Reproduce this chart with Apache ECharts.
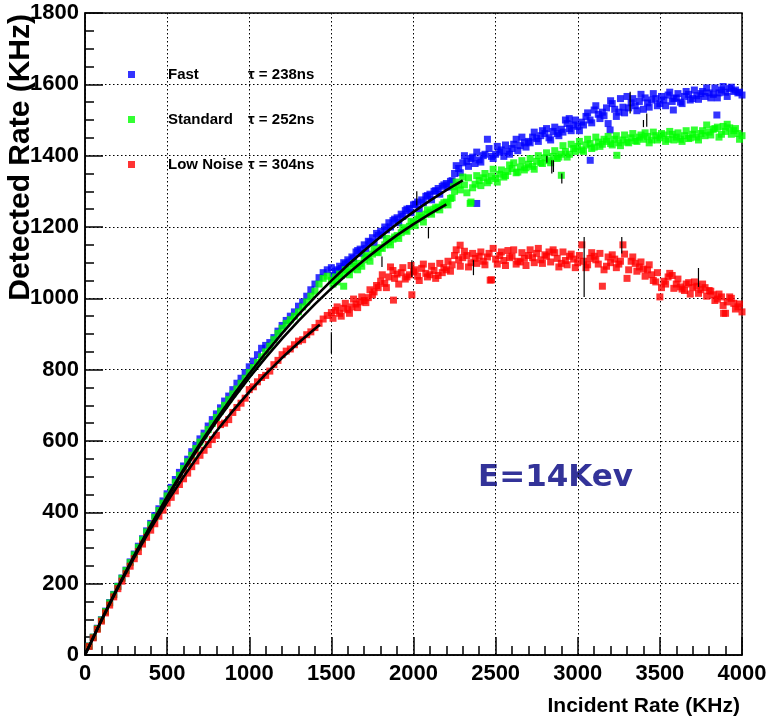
<!DOCTYPE html>
<html>
<head>
<meta charset="utf-8">
<script src="https://cdn.jsdelivr.net/npm/echarts@6/dist/echarts.min.js"></script>
<style>
  html, body { margin: 0; padding: 0; background: #fff; }
  #chart { width: 770px; height: 723px; }
</style>
</head>
<body>
<div id="chart"></div>
<script>
// Incident rate (KHz) of the first pass of measurements
const incidentRate = [
  25, 50, 75, 100, 125, 150, 175, 200, 225, 250, 275, 300, 325, 350, 375, 400,
  425, 450, 475, 500, 525, 550, 575, 600, 625, 650, 675, 700, 725, 750, 775, 800,
  825, 850, 875, 900, 925, 950, 975, 1000, 1025, 1050, 1075, 1100, 1125, 1150, 1175, 1200,
  1225, 1250, 1275, 1300, 1325, 1350, 1375, 1400, 1425, 1450, 1475, 1500, 1525, 1550, 1575, 1600,
  1625, 1650, 1675, 1700, 1725, 1750, 1775, 1800, 1825, 1850, 1875, 1900, 1925, 1950, 1975, 2000,
  2025, 2050, 2075, 2100, 2125, 2150, 2175, 2200, 2225, 2250, 2275, 2300, 2325, 2350, 2375, 2400,
  2425, 2450, 2475, 2500, 2525, 2550, 2575, 2600, 2625, 2650, 2675, 2700, 2725, 2750, 2775, 2800,
  2825, 2850, 2875, 2900, 2925, 2950, 2975, 3000, 3025, 3050, 3075, 3100, 3125, 3150, 3175, 3200,
  3225, 3250, 3275, 3300, 3325, 3350, 3375, 3400, 3425, 3450, 3475, 3500, 3525, 3550, 3575, 3600,
  3625, 3650, 3675, 3700, 3725, 3750, 3775, 3800, 3825, 3850, 3875, 3900, 3925, 3950, 3975, 4000
];

// Detected rate (KHz), Fast shaping, first pass
const fastRate = [
  25, 50, 75, 99, 123, 147, 170, 193, 216, 238, 261, 283, 305, 326, 348, 369,
  391, 410, 432, 452, 470, 492, 512, 530, 549, 570, 588, 606, 622, 642, 660, 676,
  693, 712, 726, 744, 762, 776, 792, 808, 824, 842, 860, 868, 876, 890, 908, 924,
  938, 950, 962, 978, 990, 1006, 1024, 1040, 1058, 1072, 1080, 1086, 1076, 1090, 1100, 1108,
  1116, 1130, 1138, 1150, 1160, 1170, 1182, 1188, 1200, 1212, 1218, 1226, 1236, 1246, 1252, 1262,
  1270, 1276, 1286, 1292, 1300, 1308, 1314, 1322, 1328, 1350, 1364, 1380, 1384, 1392, 1378, 1388,
  1400, 1446, 1398, 1404, 1410, 1398, 1412, 1420, 1446, 1428, 1436, 1440, 1452, 1448, 1456, 1462,
  1450, 1468, 1462, 1474, 1500, 1476, 1486, 1482, 1494, 1510, 1500, 1528, 1516, 1522, 1534, 1554,
  1530, 1522, 1536, 1566, 1548, 1540, 1552, 1530, 1548, 1556, 1560, 1546, 1556, 1570, 1552, 1562,
  1550, 1566, 1572, 1560, 1568, 1574, 1566, 1576, 1572, 1562, 1584, 1578, 1588, 1580, 1576, 1570
];

// Detected rate (KHz), Standard shaping, first pass
const standardRate = [
  25, 50, 74, 98, 122, 146, 169, 192, 215, 237, 259, 281, 302, 323, 345, 365,
  386, 405, 426, 446, 465, 484, 504, 523, 542, 560, 579, 597, 614, 632, 649, 666,
  684, 700, 716, 732, 746, 762, 776, 792, 806, 820, 836, 850, 866, 884, 902, 916,
  930, 940, 950, 962, 976, 990, 1006, 1020, 1040, 1056, 1062, 1050, 1060, 1068, 1034, 1074,
  1082, 1090, 1098, 1108, 1116, 1124, 1130, 1142, 1150, 1158, 1166, 1176, 1184, 1192, 1202, 1212,
  1222, 1228, 1236, 1242, 1250, 1256, 1262, 1270, 1280, 1300, 1318, 1340, 1296, 1270, 1320, 1330,
  1338, 1324, 1342, 1336, 1348, 1340, 1356, 1364, 1352, 1368, 1360, 1376, 1370, 1384, 1380, 1394,
  1386, 1398, 1392, 1404, 1412, 1404, 1420, 1426, 1416, 1430, 1434, 1424, 1438, 1432, 1440, 1434,
  1446, 1436, 1444, 1438, 1450, 1442, 1452, 1446, 1454, 1444, 1456, 1450, 1458, 1446, 1460, 1452,
  1446, 1456, 1448, 1460, 1452, 1462, 1456, 1466, 1474, 1480, 1460, 1468, 1478, 1470, 1462, 1456
];

// Detected rate (KHz), Low Noise shaping, first pass
const lowNoiseRate = [
  24, 48, 72, 95, 118, 140, 163, 186, 207, 228, 249, 270, 290, 311, 330, 350,
  368, 389, 406, 426, 442, 460, 478, 494, 510, 528, 544, 560, 574, 590, 604, 616,
  646, 650, 660, 680, 694, 706, 720, 744, 752, 766, 778, 784, 796, 814, 826, 842,
  852, 858, 870, 880, 884, 898, 906, 918, 930, 942, 952, 960, 966, 958, 972, 968,
  976, 984, 990, 994, 1002, 1010, 1036, 1048, 1042, 1060, 1078, 1068, 1072, 1054, 1066, 1074,
  1062, 1084, 1070, 1066, 1078, 1064, 1072, 1080, 1076, 1120, 1108, 1114, 1120, 1100, 1112, 1118,
  1104, 1116, 1052, 1110, 1120, 1106, 1134, 1118, 1096, 1102, 1112, 1120, 1114, 1126, 1108, 1122,
  1130, 1136, 1112, 1098, 1106, 1118, 1110, 1100, 1150, 1086, 1112, 1118, 1096, 1034, 1090, 1100,
  1110, 1096, 1150, 1056, 1104, 1098, 1088, 1082, 1080, 1066, 1046, 1004, 1048, 1060, 1064, 1040,
  1032, 1022, 1044, 1030, 1034, 1024, 1030, 1022, 1010, 998, 1004, 958, 1004, 986, 976, 962
];

// Incident rate (KHz) of the second pass (upper range only)
const incidentRateB = [
  1510, 1535, 1560, 1585, 1610, 1635, 1660, 1685, 1710, 1735, 1760, 1785, 1810, 1835, 1860, 1885,
  1910, 1935, 1960, 1985, 2010, 2035, 2060, 2085, 2110, 2135, 2160, 2185, 2210, 2235, 2260, 2285,
  2310, 2335, 2360, 2385, 2410, 2435, 2460, 2485, 2510, 2535, 2560, 2585, 2610, 2635, 2660, 2685,
  2710, 2735, 2760, 2785, 2810, 2835, 2860, 2885, 2910, 2935, 2960, 2985, 3010, 3035, 3060, 3085,
  3110, 3135, 3160, 3185, 3210, 3235, 3260, 3285, 3310, 3335, 3360, 3385, 3410, 3435, 3460, 3485,
  3510, 3535, 3560, 3585, 3610, 3635, 3660, 3685, 3710, 3735, 3760, 3785, 3810, 3835, 3860, 3885,
  3910, 3935, 3960, 3985
];

const fastRateB = [
  1064, 1080, 1084, 1096, 1102, 1112, 1134, 1126, 1140, 1158, 1156, 1176, 1178, 1192, 1200, 1222,
  1212, 1230, 1250, 1240, 1264, 1250, 1268, 1288, 1276, 1302, 1292, 1318, 1312, 1330, 1372, 1352,
  1400, 1370, 1396, 1410, 1382, 1404, 1420, 1392, 1426, 1416, 1430, 1404, 1432, 1414, 1452, 1424,
  1436, 1466, 1440, 1470, 1476, 1444, 1480, 1456, 1466, 1490, 1470, 1500, 1470, 1486, 1520, 1492,
  1540, 1504, 1512, 1490, 1546, 1510, 1560, 1520, 1534, 1560, 1526, 1572, 1562, 1536, 1574, 1540,
  1566, 1540, 1578, 1560, 1574, 1546, 1580, 1556, 1584, 1558, 1580, 1590, 1562, 1590, 1576, 1594,
  1566, 1592, 1584, 1578
];

const standardRateB = [
  1040, 1046, 1064, 1080, 1066, 1098, 1080, 1090, 1120, 1104, 1138, 1128, 1140, 1168, 1150, 1172,
  1168, 1198, 1188, 1216, 1204, 1232, 1214, 1248, 1236, 1254, 1248, 1268, 1262, 1282, 1326, 1304,
  1318, 1338, 1310, 1344, 1316, 1350, 1330, 1362, 1326, 1360, 1344, 1374, 1380, 1354, 1386, 1366,
  1392, 1362, 1400, 1378, 1408, 1380, 1414, 1396, 1428, 1396, 1432, 1412, 1440, 1412, 1446, 1420,
  1452, 1426, 1446, 1454, 1430, 1456, 1428, 1458, 1436, 1462, 1440, 1458, 1464, 1436, 1466, 1444,
  1462, 1440, 1468, 1444, 1464, 1440, 1470, 1450, 1472, 1444, 1470, 1486, 1458, 1476, 1452, 1482,
  1488, 1460, 1476, 1446
];

const lowNoiseRateB = [
  944, 976, 950, 986, 958, 998, 974, 1004, 988, 1024, 1018, 1030, 1066, 1030, 1088, 1056,
  1040, 1086, 1060, 1092, 1080, 1050, 1096, 1060, 1090, 1056, 1098, 1086, 1104, 1094, 1136, 1090,
  1132, 1088, 1126, 1098, 1130, 1094, 1126, 1140, 1096, 1130, 1092, 1114, 1136, 1104, 1128, 1092,
  1136, 1100, 1140, 1098, 1118, 1102, 1128, 1088, 1130, 1094, 1124, 1086, 1120, 1104, 1094, 1128,
  1108, 1126, 1080, 1116, 1122, 1086, 1104, 1124, 1080, 1116, 1076, 1102, 1062, 1094, 1050, 1072,
  1030, 1040, 1070, 1028, 1054, 1026, 1040, 1012, 1046, 1014, 1040, 1006, 1020, 994, 1012, 980,
  990, 1000, 970, 984
];

// Scattered points off the main band: [incident, detected]
const fastExtra = [[2385, 1266], [3076, 1387], [3847, 1514], [3582, 1528], [3197, 1472], [2948, 1504]];
const standardExtra = [[2243, 1313], [2900, 1345], [3238, 1401], [2345, 1266]];
const lowNoiseExtra = [[2284, 1149], [1878, 995], [1990, 1010], [3888, 958], [2467, 1051]];

// Longer statistical error bars: [incident, low, high]
const errorBars = [
  [1500, 846, 905], [1808, 1088, 1117], [1990, 1060, 1107], [2020, 1260, 1300],
  [2091, 1168, 1200], [2365, 1065, 1107], [2812, 1380, 1400], [2842, 1350, 1387],
  [2852, 1354, 1387], [2903, 1322, 1350], [3039, 1004, 1172], [3268, 1126, 1172],
  [3319, 1518, 1579], [3400, 1480, 1500], [3420, 1481, 1518], [3735, 1032, 1085]
];

// Dead-time fits: [incident, detected]
const fastFit = [
  [0, 0], [100, 97.6], [200, 190.7], [300, 279.3], [400, 363.7], [500, 443.9],
  [600, 520.2], [700, 592.6], [800, 661.3], [900, 726.5], [1000, 788.2], [1100, 846.6],
  [1200, 901.9], [1300, 954.1], [1400, 1003.3], [1500, 1049.7], [1600, 1093.3], [1700, 1134.3],
  [1800, 1172.8], [1900, 1208.8], [2000, 1242.5], [2100, 1274.0], [2200, 1303.2], [2300, 1330.4]
];
const standardFit = [
  [0, 0], [100, 97.5], [200, 190.2], [300, 278.2], [400, 361.6], [500, 440.8],
  [600, 515.8], [700, 586.8], [800, 653.9], [900, 717.4], [1000, 777.2], [1100, 833.7],
  [1200, 886.8], [1300, 936.8], [1400, 983.8], [1500, 1027.8], [1600, 1069.1], [1700, 1107.6],
  [1800, 1143.6], [1900, 1177.1], [2000, 1208.2], [2100, 1237.0], [2200, 1263.7]
];
const lowNoiseFit = [
  [0, 0], [100, 97.0], [200, 188.2], [300, 273.8], [400, 354.2], [500, 429.5],
  [600, 500.0], [700, 565.8], [800, 627.3], [900, 684.6], [1000, 737.9], [1100, 787.3],
  [1200, 833.2], [1300, 875.6], [1400, 914.7], [1430, 925.8]
];

const seriesNames = ['Fast', 'Standard', 'Low Noise'];
const tauLabels = ['\u03c4 = 238ns', '\u03c4 = 252ns', '\u03c4 = 304ns'];
const seriesColors = ['#0000ff', '#00ff00', '#ff0000'];

const sansFont = '"Liberation Sans", Arial, Helvetica, sans-serif';

function pairs(xs, ys) {
  return xs.map((x, i) => [x, ys[i]]);
}

const measured = [
  pairs(incidentRate, fastRate).concat(pairs(incidentRateB, fastRateB), fastExtra),
  pairs(incidentRate, standardRate).concat(pairs(incidentRateB, standardRateB), standardExtra),
  pairs(incidentRate, lowNoiseRate).concat(pairs(incidentRateB, lowNoiseRateB), lowNoiseExtra)
];
const fits = [fastFit, standardFit, lowNoiseFit];

const chart = echarts.init(document.getElementById('chart'), null, { renderer: 'canvas' });

const scatterSeries = seriesNames.map((name, i) => ({
  name: name,
  type: 'scatter',
  data: measured[i],
  symbol: 'rect',
  symbolSize: 7,
  itemStyle: { color: seriesColors[i] },
  z: 2 + i * 0.1,
  silent: true
}));

const fitSeries = fits.map((d, i) => ({
  name: 'fit' + i,
  type: 'line',
  data: d,
  showSymbol: false,
  smooth: false,
  lineStyle: { color: '#000', width: 2.6 },
  z: 5,
  silent: true
}));

const errorSeries = {
  name: 'errors',
  type: 'custom',
  data: errorBars,
  encode: { x: 0, y: [1, 2] },
  z: 4,
  silent: true,
  renderItem: function (params, api) {
    const a = api.coord([api.value(0), api.value(1)]);
    const b = api.coord([api.value(0), api.value(2)]);
    return {
      type: 'line',
      shape: { x1: a[0], y1: a[1], x2: b[0], y2: b[1] },
      style: { stroke: '#000', lineWidth: 1.2 }
    };
  }
};

const gridLine = { show: true, lineStyle: { color: '#000', width: 1, type: [1.5, 2.5] } };
const plainNumber = function (v) { return String(v); };

chart.setOption({
  animation: false,
  backgroundColor: '#fff',
  grid: {
    left: 85, right: 28, top: 13, bottom: 68,
    show: true, borderColor: '#000', borderWidth: 1.5, backgroundColor: 'transparent'
  },
  legend: {
    data: seriesNames,
    orient: 'vertical',
    left: 128,
    top: 67,
    padding: 0,
    itemWidth: 7,
    itemHeight: 7,
    itemGap: 30,
    icon: 'rect',
    selectedMode: false,
    formatter: function (name) {
      return '{n|' + name + '}{t|' + tauLabels[seriesNames.indexOf(name)] + '}';
    },
    textStyle: {
      rich: {
        n: { width: 80, padding: [0, 0, 0, 28], fontFamily: sansFont, fontWeight: 'bold', fontSize: 15, color: '#000' },
        t: { fontFamily: sansFont, fontWeight: 'bold', fontSize: 15, color: '#000' }
      }
    }
  },
  xAxis: {
    type: 'value',
    min: 0, max: 4000, interval: 500,
    axisLine: { show: true, lineStyle: { color: '#000', width: 1.5 } },
    axisTick: { show: true, inside: true, length: 18, lineStyle: { color: '#000', width: 1.5 } },
    minorTick: { show: true, splitNumber: 5, length: 9, lineStyle: { color: '#000', width: 1.5 } },
    splitLine: gridLine,
    axisLabel: {
      margin: 8,
      color: '#000',
      formatter: plainNumber,
      fontFamily: sansFont, fontWeight: 'bold', fontSize: 22,
      showMinLabel: true, showMaxLabel: true
    }
  },
  yAxis: {
    type: 'value',
    min: 0, max: 1800, interval: 200,
    axisLine: { show: true, lineStyle: { color: '#000', width: 1.5 } },
    axisTick: { show: true, inside: true, length: 18, lineStyle: { color: '#000', width: 1.5 } },
    minorTick: { show: true, splitNumber: 4, length: 9, lineStyle: { color: '#000', width: 1.5 } },
    splitLine: gridLine,
    axisLabel: {
      margin: 6,
      color: '#000',
      formatter: plainNumber,
      fontFamily: sansFont, fontWeight: 'bold', fontSize: 22,
      showMinLabel: true, showMaxLabel: true
    }
  },
  graphic: [
    {
      type: 'text',
      x: 740, y: 706,
      style: {
        text: 'Incident Rate (KHz)',
        font: 'bold 21px ' + sansFont,
        fill: '#000',
        textAlign: 'right', align: 'right',
        textVerticalAlign: 'middle', verticalAlign: 'middle'
      }
    },
    {
      type: 'text',
      x: 21, y: 14,
      rotation: Math.PI / 2,
      style: {
        text: 'Detected Rate (KHz)',
        font: 'bold 30px ' + sansFont,
        fill: '#000',
        textAlign: 'right', align: 'right',
        textVerticalAlign: 'middle', verticalAlign: 'middle'
      }
    },
    {
      type: 'text',
      x: 478, y: 478,
      style: {
        text: 'E=14Kev',
        font: 'bold 31px "DejaVu Sans", Verdana, sans-serif',
        fill: '#333399',
        textAlign: 'left', align: 'left',
        textVerticalAlign: 'middle', verticalAlign: 'middle'
      }
    }
  ],
  series: scatterSeries.concat([errorSeries]).concat(fitSeries)
});
</script>
</body>
</html>
